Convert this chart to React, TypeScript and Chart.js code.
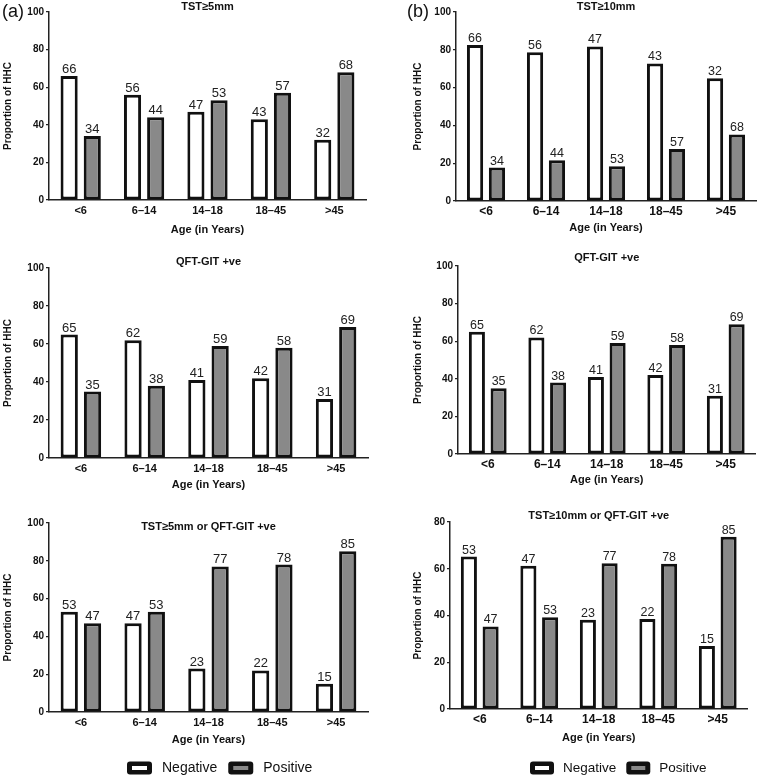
import React, { useEffect, useRef } from "react";
import { Chart, registerables } from "chart.js";

Chart.register(...registerables);

const FONT = '"Liberation Sans", Arial, Helvetica, sans-serif';

// ---------- data ----------
const ageGroups = ["<6", "6–14", "14–18", "18–45", ">45"];
const seriesNames = ["Negative", "Positive"];
const xAxisTitle = "Age (in Years)";
const yAxisTitle = "Proportion of HHC";

// (a) TST>=5mm
const tst5Negative = [66, 56, 47, 43, 32];
const tst5Positive = [34, 44, 53, 57, 68];
// QFT-GIT +ve (both columns)
const qftNegative = [65, 62, 41, 42, 31];
const qftPositive = [35, 38, 59, 58, 69];
// (a) TST>=5mm or QFT-GIT +ve
const combo5Negative = [53, 47, 23, 22, 15];
const combo5Positive = [47, 53, 77, 78, 85];
// (b) TST>=10mm : drawn bar heights and printed labels differ in the source figure
const tst10Negative = [82.6, 78.7, 81.8, 72.8, 65];
const tst10Positive = [17.7, 21.6, 18.4, 27.5, 35.2];
const tst10NegativeLabels = [66, 56, 47, 43, 32];
const tst10PositiveLabels = [34, 44, 53, 57, 68];
// (b) TST>=10mm or QFT-GIT +ve
const combo10Negative = [65.2, 61.3, 38.2, 38.5, 26.9];
const combo10Positive = [35.3, 39.2, 62.3, 62.1, 73.7];
const combo10NegativeLabels = [53, 47, 23, 22, 15];
const combo10PositiveLabels = [47, 53, 77, 78, 85];

const NEG_FILL = "#ffffff";
const POS_FILL = "#898989";
const INK = "#111111";

type PanelCfg = {
  left: number; top: number; width: number; height: number;
  padTop: number; padRight: number; yWidth: number; xHeight: number;
  yMax: number; title: string; titleY: number;
  neg: number[]; pos: number[]; negLabels: number[]; posLabels: number[];
  xFont: number; valueFont: number; xTickPad: number; xTitlePad: number; yTitlePad: number;
  letter?: { text: string; x: number; y: number };
  legend?: { x: number; y: number; boxW: number; boxH: number; gap: number; font: number; spacing: number };
};

const panels: PanelCfg[] = [
  {
    left: 0, top: 0, width: 378, height: 242, padTop: 12, padRight: 12, yWidth: 49, xHeight: 42,
    yMax: 100, title: "TST≥5mm", titleY: 7,
    neg: tst5Negative, pos: tst5Positive, negLabels: tst5Negative, posLabels: tst5Positive,
    xFont: 11, valueFont: 13, xTickPad: 4, xTitlePad: 5, yTitlePad: 2,
    letter: { text: "(a)", x: 2, y: 12 },
  },
  {
    left: 0, top: 256, width: 378, height: 244, padTop: 12, padRight: 10, yWidth: 49, xHeight: 42,
    yMax: 100, title: "QFT-GIT +ve", titleY: 6,
    neg: qftNegative, pos: qftPositive, negLabels: qftNegative, posLabels: qftPositive,
    xFont: 11, valueFont: 13, xTickPad: 4, xTitlePad: 8.5, yTitlePad: 2,
  },
  {
    left: 0, top: 511, width: 378, height: 267, padTop: 12, padRight: 10, yWidth: 49, xHeight: 66,
    yMax: 100, title: "TST≥5mm or QFT-GIT +ve", titleY: 16,
    neg: combo5Negative, pos: combo5Positive, negLabels: combo5Negative, posLabels: combo5Positive,
    xFont: 11, valueFont: 13, xTickPad: 4, xTitlePad: 31, yTitlePad: 2,
    legend: { x: 127, y: 257, boxW: 25, boxH: 13, gap: 10, font: 14, spacing: 11 },
  },
  {
    left: 380, top: 0, width: 378, height: 242, padTop: 12, padRight: 2, yWidth: 76, xHeight: 41,
    yMax: 100, title: "TST≥10mm", titleY: 7,
    neg: tst10Negative, pos: tst10Positive, negLabels: tst10NegativeLabels, posLabels: tst10PositiveLabels,
    xFont: 12, valueFont: 12.5, xTickPad: 3, xTitlePad: 7, yTitlePad: 32,
    letter: { text: "(b)", x: 27, y: 12 },
  },
  {
    left: 380, top: 248, width: 378, height: 248, padTop: 18, padRight: 2.5, yWidth: 78, xHeight: 42,
    yMax: 100, title: "QFT-GIT +ve", titleY: 10,
    neg: qftNegative, pos: qftPositive, negLabels: qftNegative, posLabels: qftPositive,
    xFont: 12, valueFont: 12.5, xTickPad: 3, xTitlePad: 9.5, yTitlePad: 32,
  },
  {
    left: 380, top: 510, width: 378, height: 268, padTop: 12, padRight: 10.5, yWidth: 70, xHeight: 69,
    yMax: 80, title: "TST≥10mm or QFT-GIT +ve", titleY: 6,
    neg: combo10Negative, pos: combo10Positive, negLabels: combo10NegativeLabels, posLabels: combo10PositiveLabels,
    xFont: 12, valueFont: 12.5, xTickPad: 3.5, xTitlePad: 33, yTitlePad: 32,
    legend: { x: 150, y: 258, boxW: 24, boxH: 13, gap: 9, font: 13.5, spacing: 10 },
  },
];

function makeDecor(cfg: PanelCfg) {
  return {
    id: "decor",
    afterDatasetsDraw(chart: any) {
      const ctx: CanvasRenderingContext2D = chart.ctx;
      const labelSets = [cfg.negLabels, cfg.posLabels];
      ctx.save();
      chart.data.datasets.forEach((_ds: any, di: number) => {
        const meta = chart.getDatasetMeta(di);
        meta.data.forEach((el: any, i: number) => {
          ctx.font = `${cfg.valueFont}px ${FONT}`;
          ctx.fillStyle = "#222";
          ctx.textAlign = "center";
          ctx.textBaseline = "alphabetic";
          ctx.fillText(String(labelSets[di][i]), el.x, el.y - 3);
        });
      });
      ctx.restore();
    },
    afterDraw(chart: any) {
      const ctx: CanvasRenderingContext2D = chart.ctx;
      const ca = chart.chartArea;
      ctx.save();
      ctx.fillStyle = INK;
      ctx.font = `bold 11px ${FONT}`;
      ctx.textAlign = "center";
      ctx.textBaseline = "middle";
      ctx.fillText(cfg.title, (ca.left + ca.right) / 2, cfg.titleY);
      if (cfg.letter) {
        ctx.font = `18px ${FONT}`;
        ctx.textAlign = "left";
        ctx.fillText(cfg.letter.text, cfg.letter.x, cfg.letter.y);
      }
      if (cfg.legend) {
        const lg = cfg.legend;
        let x = lg.x;
        chart.data.datasets.forEach((ds: any) => {
          ctx.fillStyle = INK;
          ctx.beginPath();
          (ctx as any).roundRect(x, lg.y - lg.boxH / 2, lg.boxW, lg.boxH, 3);
          ctx.fill();
          ctx.fillStyle = ds.backgroundColor;
          ctx.fillRect(x + 5, lg.y - 2, lg.boxW - 10, 4);
          x += lg.boxW + lg.gap;
          ctx.font = `${lg.font}px ${FONT}`;
          ctx.fillStyle = INK;
          ctx.textAlign = "left";
          ctx.textBaseline = "middle";
          ctx.fillText(ds.label, x, lg.y + 0.5);
          x += ctx.measureText(ds.label).width + lg.spacing;
        });
      }
      ctx.restore();
    },
  };
}

function Panel({ cfg }: { cfg: PanelCfg }) {
  const ref = useRef<HTMLCanvasElement | null>(null);
  useEffect(() => {
    if (!ref.current) return;
    const chart = new Chart(ref.current, {
      type: "bar",
      data: {
        labels: ageGroups,
        datasets: [
          {
            label: seriesNames[0],
            data: cfg.neg,
            backgroundColor: NEG_FILL,
            borderColor: INK,
            borderWidth: 3,
            borderSkipped: false,
            categoryPercentage: 0.73,
            barPercentage: 0.74,
          },
          {
            label: seriesNames[1],
            data: cfg.pos,
            backgroundColor: POS_FILL,
            borderColor: INK,
            borderWidth: 3,
            borderSkipped: false,
            categoryPercentage: 0.73,
            barPercentage: 0.74,
          },
        ],
      },
      options: {
        responsive: false,
        animation: false,
        devicePixelRatio: 1,
        layout: { padding: { top: cfg.padTop, right: cfg.padRight, left: 0, bottom: 0 } },
        plugins: { legend: { display: false }, tooltip: { enabled: false }, title: { display: false } },
        scales: {
          x: {
            type: "category",
            offset: true,
            grid: { display: false, drawTicks: false },
            border: { display: true, color: "#222", width: 1.5 },
            ticks: {
              color: INK,
              font: { family: FONT, size: cfg.xFont, weight: "bold" },
              padding: cfg.xTickPad,
              maxRotation: 0,
              autoSkip: false,
            },
            title: {
              display: true,
              text: xAxisTitle,
              color: INK,
              font: { family: FONT, size: 11, weight: "bold" },
              padding: { top: 0, bottom: cfg.xTitlePad },
            },
            afterFit: (s: any) => {
              s.height = cfg.xHeight;
            },
          },
          y: {
            type: "linear",
            min: 0,
            max: cfg.yMax,
            grid: { display: true, drawOnChartArea: false, drawTicks: true, tickLength: 3, color: "#222", lineWidth: 1.2 },
            border: { display: true, color: "#222", width: 1.5 },
            ticks: {
              stepSize: 20,
              color: INK,
              font: { family: FONT, size: 10, weight: "bold" },
              padding: 2,
            },
            title: {
              display: true,
              text: yAxisTitle,
              color: INK,
              font: { family: FONT, size: 10, weight: "bold" },
              padding: { top: cfg.yTitlePad, bottom: 0 },
            },
            afterFit: (s: any) => {
              s.width = cfg.yWidth;
            },
          },
        },
      } as any,
      plugins: [makeDecor(cfg)],
    });
    return () => chart.destroy();
  }, [cfg]);
  return (
    <canvas
      ref={ref}
      width={cfg.width}
      height={cfg.height}
      style={{ position: "absolute", left: cfg.left, top: cfg.top, width: cfg.width, height: cfg.height }}
    />
  );
}

export default function App() {
  return (
    <div style={{ position: "absolute", left: 0, top: 0, width: 758, height: 778, background: "#fff", overflow: "hidden" }}>
      {panels.map((p, i) => (
        <Panel key={i} cfg={p} />
      ))}
    </div>
  );
}
